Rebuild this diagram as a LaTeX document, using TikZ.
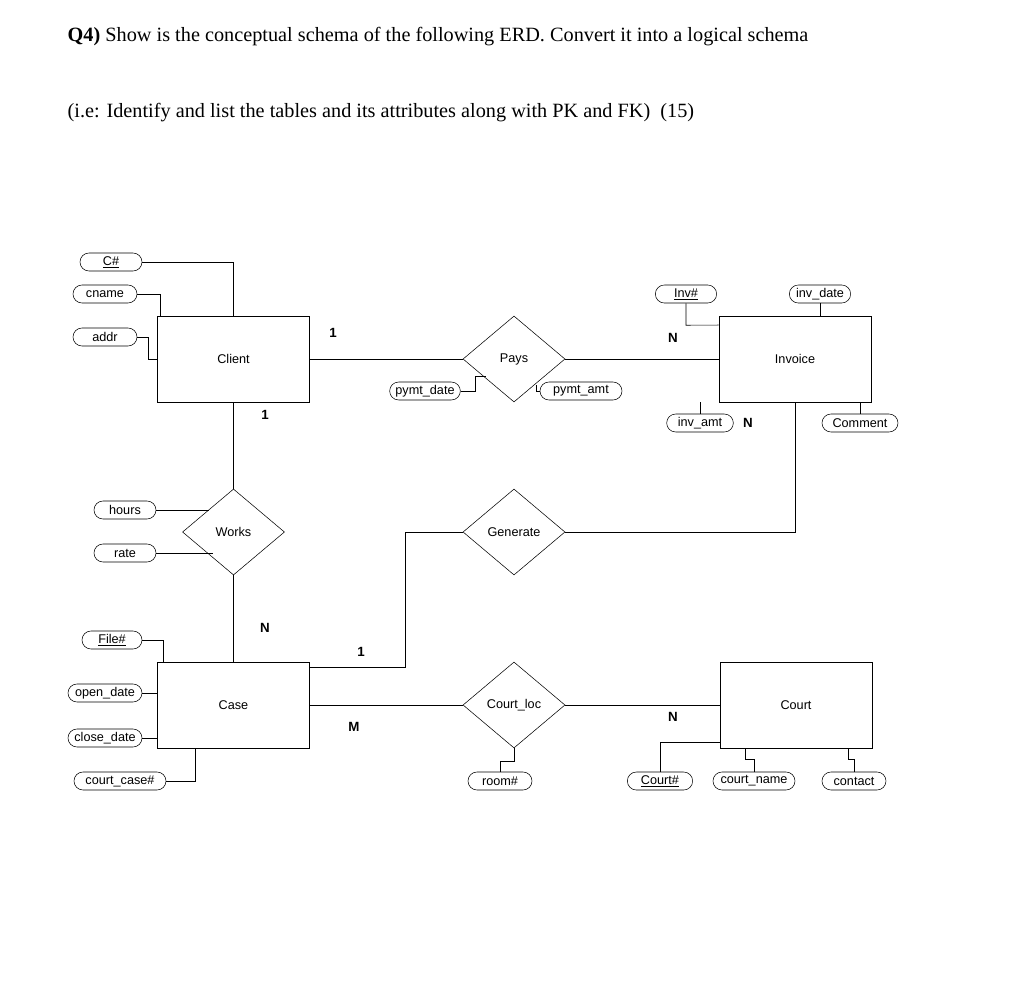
\documentclass[tikz,border=0pt]{standalone}
\usepackage{fontspec}
\setmainfont{Liberation Serif}
\newfontfamily\sansf{Liberation Sans}
\usetikzlibrary{shapes.geometric}
\begin{document}
\begin{tikzpicture}[x=0.75pt,y=-0.75pt,
  every node/.style={font=\sansf\fontsize{9.5}{10}\selectfont},
  ent/.style={draw,thin,minimum width=114pt,minimum height=64.5pt,inner sep=0pt},
  rel/.style={draw,thin,diamond,aspect=1.19,minimum width=76.5pt,minimum height=64.5pt,inner sep=0pt},
  att/.style={draw,thin,rounded corners=6.75pt,minimum height=13.5pt,inner sep=1pt},
  card/.style={font=\sansf\bfseries\fontsize{10}{10}\selectfont},
  ln/.style={draw,thin}]
\useasboundingbox (0,0) rectangle (1024,992);
\node[anchor=west,font=\rmfamily\fontsize{15.2}{17}\selectfont] (t1) at (63,37) {\textbf{Q4)} Show is the conceptual schema of the following ERD. Convert it into a logical schema};
\node[anchor=west,font=\rmfamily\fontsize{15.2}{17}\selectfont] (t2) at (63,113) {(i.e: Identify and list the tables and its attributes along with PK and FK)\ \ (15)};

\node[ent] (client) at (233.5,359) {Client};
\node[ent] (invoice) at (795,359) {Invoice};
\node[ent] (case) at (233.5,705) {Case};
\node[ent] (court) at (796,705) {Court};
\node[rel] (pays) at (514,359) {Pays};
\node[rel] (works) at (233.5,532) {Works};
\node[rel] (gen) at (514,532) {Generate};
\node[rel] (cloc) at (514,705) {Court\_loc};

\node[att,minimum width=46.5pt] (cid) at (111,262) {\underline{C\#}};
\node[att,minimum width=48pt] (cname) at (105,294) {cname};
\node[att,minimum width=48pt] (addr) at (105,337) {addr};
\node[att,minimum width=46.5pt] (hours) at (125,510) {hours};
\node[att,minimum width=46.5pt] (rate) at (125,553) {rate};
\node[att,minimum width=53pt] (pdate) at (425,391) {pymt\_date};
\node[att,minimum width=61.5pt] (pamt) at (581,391) {pymt\_amt};
\node[att,minimum width=46pt] (inv) at (686,294) {\underline{Inv\#}};
\node[att,minimum width=46pt] (idate) at (820,294) {inv\_date};
\node[att,minimum width=50pt] (iamt) at (700,423) {inv\_amt};
\node[att,minimum width=57pt] (comm) at (860,423) {Comment};
\node[att,minimum width=45pt] (file) at (112,640) {\underline{File\#}};
\node[att,minimum width=55.5pt] (odate) at (105,693) {open\_date};
\node[att,minimum width=55.5pt] (cdate) at (105,738) {close\_date};
\node[att,minimum width=69pt] (ccase) at (120,781) {court\_case\#};
\node[att,minimum width=48pt] (room) at (500,781) {room\#};
\node[att,minimum width=49pt] (courtid) at (660,781) {\underline{Court\#}};
\node[att,minimum width=61.5pt] (cname2) at (754,781) {court\_name};
\node[att,minimum width=48pt] (contact) at (854,781) {contact};

\node[card] (c1) at (333,333) {1};
\node[card] (c2) at (265,415) {1};
\node[card] (c3) at (673,338) {N};
\node[card] (c4) at (748,423) {N};
\node[card] (c5) at (265,628) {N};
\node[card] (c6) at (361,652) {1};
\node[card] (c7) at (354,727) {M};
\node[card] (c8) at (673,717) {N};

\draw[ln] (client.east) -- (pays.west);
\draw[ln] (pays.east) -- (invoice.west);
\draw[ln] (client.south) -- (works.north);
\draw[ln] (works.south) -- (case.north);
\draw[ln] (case.east) -- (cloc.west);
\draw[ln] (cloc.east) -- (court.west);
\draw[ln] (case.north east) ++(0,6) coordinate (g0) -- ++(95,0) |- (gen.west);
\draw[ln] (gen.east) -| (invoice.south);

\draw[ln] (cid.east) -| (client.north);
\draw[ln] (cname.east) -- ++(23,0) |- ++(0,22);
\draw[ln] (addr.east) -- ++(11,0) |- (client.west);
\draw[ln] (hours.east) -- (209,510);
\draw[ln] (rate.east) -- (213,553);
\draw[ln] (pdate.east) -- ++(15,0) -- ++(0,-15) -- ++(10,0);
\draw[ln] (pamt.west) -- ++(-3,0) -- ++(0,-6);
\draw[ln] (inv.south) -- ++(0,22) -- (invoice.north west |- 0,325);
\draw[ln] (idate.south) -- (idate.south |- invoice.north);
\draw[ln] (iamt.north) -- (iamt.north |- invoice.south);
\draw[ln] (comm.north) -- (comm.north |- invoice.south);
\draw[ln] (file.east) -- ++(21,0) -- ++(0,22);
\draw[ln] (odate.east) -- (odate.east -| case.west);
\draw[ln] (cdate.east) -- (cdate.east -| case.west);
\draw[ln] (ccase.east) -- ++(29,0) |- (case.south);
\draw[ln] (room.north) -- ++(0,-10) -| (cloc.south);
\draw[ln] (courtid.north) |- (court.west |- 0,742);
\draw[ln] (cname2.north) -- ++(0,-12) -- ++(-9,0) -- ++(0,-12);
\draw[ln] (contact.north) -- ++(0,-12) -- ++(-6,0) -- ++(0,-12);
\end{tikzpicture}
\end{document}
